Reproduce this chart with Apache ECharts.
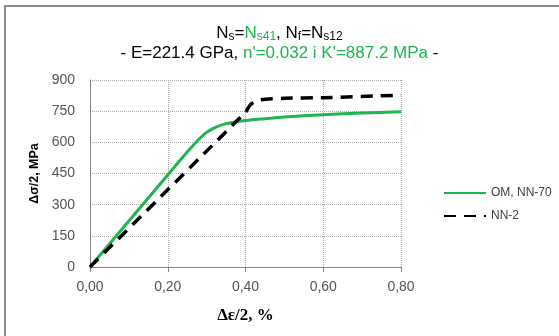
<!DOCTYPE html>
<html><head><meta charset="utf-8">
<script src="https://cdn.jsdelivr.net/npm/echarts@6/dist/echarts.min.js"></script>
<style>html,body{margin:0;padding:0;background:#fff}#c{width:559px;height:336px}</style>
</head><body><div id="c"></div>
<script>
const omStrain = [0, 0.05, 0.10, 0.15, 0.20, 0.25, 0.28, 0.30, 0.32, 0.35, 0.40, 0.45, 0.50, 0.60, 0.70, 0.80];
const omStress = [0, 111, 221, 332, 443, 553, 615, 648, 670, 690, 705, 714, 722, 733, 741, 747];
const nnStrain = [0, 0.40, 0.41, 0.42, 0.44, 0.50, 0.60, 0.80];
const nnStress = [0, 745, 775, 792, 805, 812, 815, 827];
const xTicks = [0, 0.2, 0.4, 0.6, 0.8];
const yTicks = [0, 150, 300, 450, 600, 750, 900];
const seriesNames = ['OM, NN-70', 'NN-2'];

const chart = echarts.init(document.getElementById('c'));
const green = '#1fb54e';
const base = {fontFamily:'Liberation Sans', fontSize:17, fontWeight:'normal', lineHeight:20};
const sub = {fontFamily:'Liberation Sans', fontSize:12, fontWeight:'normal', verticalAlign:'bottom', padding:[8,0,0,0], lineHeight:20};
chart.setOption({
  animation: false,
  graphic: [{type:'rect', shape:{x:5,y:6,width:600,height:400}, style:{fill:'none', stroke:'#8c8c8c', lineWidth:2}}],
  title: {
    left: 'center', top: 18,
    text: '{b|N}{bs|s}{b|=}{g|N}{gs|s41}{b|, N}{bs|f}{b|=N}{bs|s12}\n{b|- E=221.4 GPa, }{g|n\'=0.032 i K\'=887.2 MPa}{b| -}',
    textStyle: {
      lineHeight: 20, fontWeight:'normal',
      rich: {
        b: Object.assign({color:'#000'}, base),
        g: Object.assign({color:green}, base),
        bs: Object.assign({color:'#000'}, sub),
        gs: Object.assign({color:green}, sub)
      }
    }
  },
  grid: {left: 90, right: 158, top: 80, bottom: 69},
  legend: {
    orient: 'vertical', left: 438, top: 182, itemWidth: 42, itemHeight: 14, itemGap: 11,
    data: seriesNames,
    itemStyle: {opacity: 0},
    textStyle: {fontFamily:'Liberation Sans', fontSize: 12, color:'#404040'}
  },
  xAxis: {
    type: 'value', min: xTicks[0], max: xTicks[xTicks.length-1], interval: 0.2,
    name: 'Δε/2, %', nameLocation: 'middle', nameGap: 40,
    nameTextStyle: {fontFamily:'Liberation Serif', fontSize: 17, fontWeight:'bold', color:'#000'},
    axisLine: {lineStyle:{color:'#888'}},
    axisTick: {show:true, length:5, lineStyle:{color:'#888'}},
    axisLabel: {fontFamily:'Liberation Sans', fontSize:14, color:'#555', margin:13, formatter: v => v.toFixed(2).replace('.', ',')},
    splitLine: {show:true, lineStyle:{color:'#aaa', type:'dotted'}}
  },
  yAxis: {
    type: 'value', min: yTicks[0], max: yTicks[yTicks.length-1], interval: 150,
    name: 'Δσ/2, MPa', nameLocation: 'middle', nameGap: 31,
    nameTextStyle: {fontFamily:'Liberation Sans', fontSize: 12.5, fontWeight:'bold', color:'#000'},
    axisLine: {show:true, lineStyle:{color:'#888'}},
    axisTick: {show:false},
    axisLabel: {fontFamily:'Liberation Sans', fontSize:14, color:'#555', margin:15},
    splitLine: {show:true, lineStyle:{color:'#aaa', type:'dotted'}}
  },
  series: [
    {name: seriesNames[0], type:'line', smooth: 0.3, symbol:'none', data: omStrain.map((x,i)=>[x, omStress[i]]),
     lineStyle:{color:green, width:3}, itemStyle:{color:green}},
    {name: seriesNames[1], type:'line', smooth: 0.2, symbol:'none', data: nnStrain.map((x,i)=>[x, nnStress[i]]),
     lineStyle:{color:'#000', width:3.5, type:[12,8]}, itemStyle:{color:'#000'}}
  ]
});
</script></body></html>
